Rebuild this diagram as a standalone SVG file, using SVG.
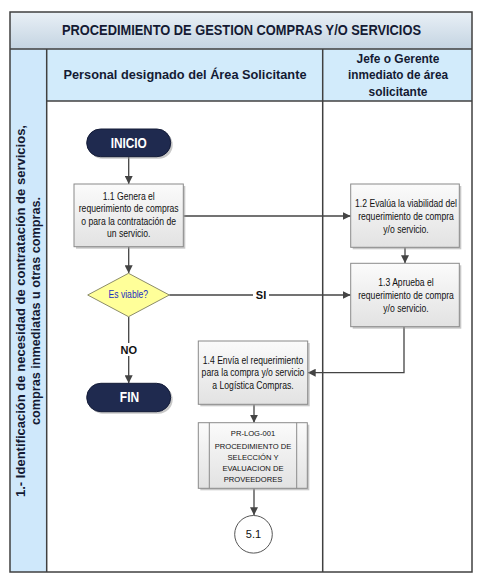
<svg xmlns="http://www.w3.org/2000/svg" width="493" height="583" viewBox="0 0 493 583">
<style>
.hdr{font-family:"Liberation Sans",Arial,sans-serif;font-weight:bold;fill:#141a33;}
.n{font-family:"Liberation Sans",Arial,sans-serif;font-size:10.5px;fill:#111;text-anchor:middle;}
.pr{font-family:"Liberation Sans",Arial,sans-serif;font-size:7.6px;fill:#111;text-anchor:middle;}
.box{fill:url(#gbox);stroke:#8a8a8a;stroke-width:1;}
.shadow{fill:#9a9a9a;opacity:0.55;}
.pill{fill:#1f2a4f;stroke:#141c38;stroke-width:1;}
.pt{font-family:"Liberation Sans",Arial,sans-serif;font-weight:bold;fill:#fff;text-anchor:middle;}
.line{fill:none;stroke:#444;stroke-width:1.3;}
.lbl{font-family:"Liberation Sans",Arial,sans-serif;font-weight:bold;font-size:11px;fill:#111;text-anchor:middle;}
.frame{fill:none;stroke:#404040;stroke-width:1.5;}
</style>
<defs>
<linearGradient id="gtitle" x1="0" y1="0" x2="0" y2="1">
<stop offset="0" stop-color="#e9f0f6"/>
<stop offset="1" stop-color="#c4d4e2"/>
</linearGradient>
<linearGradient id="gbox" x1="0" y1="0" x2="0" y2="1">
<stop offset="0" stop-color="#fbfbfb"/>
<stop offset="1" stop-color="#e2e2e2"/>
</linearGradient>
<marker id="arr" viewBox="0 0 10 10" refX="10" refY="5" markerWidth="8" markerHeight="8" markerUnits="userSpaceOnUse" orient="auto">
<path d="M0,0 L10,5 L0,10 Z" fill="#444"/>
</marker>
</defs>

<g id="frame">
<rect x="10" y="12" width="462" height="37" fill="url(#gtitle)"/>
<rect x="46.7" y="49" width="425.3" height="52" fill="#d2ebfb"/>
<rect x="10" y="49" width="36.7" height="523" fill="#cfe8fb"/>
<rect x="46.7" y="101" width="425.3" height="471" fill="#fff"/>
<rect class="frame" x="10" y="12" width="462" height="560"/>
<line class="frame" x1="10" y1="49" x2="472" y2="49"/>
<line class="frame" x1="46.7" y1="101" x2="472" y2="101" stroke-width="1.2"/>
<line class="frame" x1="46.7" y1="49" x2="46.7" y2="572" stroke-width="1.2"/>
<line class="frame" x1="322.7" y1="49" x2="322.7" y2="572" stroke-width="1.2"/>
<text class="hdr" x="241.5" y="35" font-size="14" text-anchor="middle" textLength="359" lengthAdjust="spacingAndGlyphs">PROCEDIMIENTO DE GESTION COMPRAS Y/O SERVICIOS</text>
<text class="hdr" x="185" y="79" font-size="13.5" text-anchor="middle" textLength="243" lengthAdjust="spacingAndGlyphs">Personal designado del Área Solicitante</text>
<text class="hdr" x="398" y="63" font-size="13" text-anchor="middle" textLength="83" lengthAdjust="spacingAndGlyphs">Jefe o Gerente</text>
<text class="hdr" x="398" y="79" font-size="13" text-anchor="middle" textLength="100" lengthAdjust="spacingAndGlyphs">inmediato de área</text>
<text class="hdr" x="398" y="96" font-size="13" text-anchor="middle" textLength="59" lengthAdjust="spacingAndGlyphs">solicitante</text>
<g transform="translate(0,311) rotate(-90)">
<text class="hdr" x="0" y="25" font-size="12" text-anchor="middle" textLength="372" lengthAdjust="spacingAndGlyphs">1.- Identificación de necesidad de contratación de servicios,</text>
<text class="hdr" x="0" y="40" font-size="12" text-anchor="middle" textLength="228" lengthAdjust="spacingAndGlyphs">compras inmediatas u otras compras.</text>
</g>
</g>

<g id="connectors">
<line class="line" x1="128.7" y1="157" x2="128.7" y2="184" marker-end="url(#arr)"/>
<line class="line" x1="183.3" y1="216" x2="350.7" y2="216" marker-end="url(#arr)"/>
<line class="line" x1="128.7" y1="247" x2="128.7" y2="273.3" marker-end="url(#arr)"/>
<line class="line" x1="169.3" y1="295" x2="350.7" y2="295" marker-end="url(#arr)"/>
<line class="line" x1="128.7" y1="316.7" x2="128.7" y2="383.3" marker-end="url(#arr)"/>
<line class="line" x1="405" y1="247.3" x2="405" y2="263.3" marker-end="url(#arr)"/>
<polyline class="line" points="404,326.7 404,372.7 307.7,372.7" marker-end="url(#arr)"/>
<line class="line" x1="254" y1="404.3" x2="254" y2="422.7" marker-end="url(#arr)"/>
<line class="line" x1="254" y1="488.3" x2="254" y2="515.3" marker-end="url(#arr)"/>
<rect x="253" y="289" width="16" height="12" fill="#fff"/>
<text class="lbl" x="261" y="299.3">SI</text>
<rect x="119" y="343" width="20" height="13" fill="#fff"/>
<text class="lbl" x="128.8" y="354">NO</text>
</g>

<g id="inicio">
<rect class="shadow" x="88.7" y="131" width="84" height="27.7" rx="13.8"/>
<rect class="pill" x="86.7" y="129" width="84" height="27.7" rx="13.8"/>
<g transform="translate(128.7,148) scale(0.8,1)"><text class="pt" x="0" y="0" font-size="14.8">INICIO</text></g>
</g>

<g id="n11">
<rect class="shadow" x="76" y="186" width="109.3" height="62.7"/>
<rect class="box" x="74" y="184" width="109.3" height="62.7"/>
<g transform="translate(128.7,0) scale(0.82,1)" >
<text class="n" x="0" y="200">1.1 Genera el</text>
<text class="n" x="0" y="212.5">requerimiento de compras</text>
<text class="n" x="0" y="225">o para la contratación de</text>
<text class="n" x="0" y="237.5">un servicio.</text>
</g>
</g>

<g id="n12">
<rect class="shadow" x="352.7" y="186" width="108.6" height="63.3"/>
<rect class="box" x="350.7" y="184" width="108.6" height="63.3"/>
<g transform="translate(406,0) scale(0.82,1)">
<text class="n" x="0" y="207">1.2 Evalúa la viabilidad del</text>
<text class="n" x="0" y="220">requerimiento de compra</text>
<text class="n" x="0" y="233">y/o servicio.</text>
</g>
</g>

<g id="n13">
<rect class="shadow" x="352.7" y="265.3" width="108.6" height="63.4"/>
<rect class="box" x="350.7" y="263.3" width="108.6" height="63.4"/>
<g transform="translate(406,0) scale(0.82,1)">
<text class="n" x="0" y="286">1.3 Aprueba el</text>
<text class="n" x="0" y="299">requerimiento de compra</text>
<text class="n" x="0" y="312">y/o servicio.</text>
</g>
</g>

<g id="decision">
<polygon points="128.5,273.3 169.3,295 128.5,316.7 87.7,295" fill="#ffff99" stroke="#8c8c6a" stroke-width="1"/>
<g transform="translate(128.3,0) scale(0.82,1)"><text class="n" x="0" y="298.5" style="fill:#1a2fc0">Es viable?</text></g>
</g>

<g id="fin">
<rect class="shadow" x="88.7" y="385.3" width="84" height="28.4" rx="14.2"/>
<rect class="pill" x="86.7" y="383.3" width="84" height="28.4" rx="14.2"/>
<g transform="translate(129.5,402) scale(0.8,1)"><text class="pt" x="0" y="0" font-size="15">FIN</text></g>
</g>

<g id="n14">
<rect class="shadow" x="200.3" y="343" width="109.4" height="63.3"/>
<rect class="box" x="198.3" y="341" width="109.4" height="63.3"/>
<g transform="translate(253,0) scale(0.82,1)">
<text class="n" x="0" y="364">1.4 Envía el requerimiento</text>
<text class="n" x="0" y="376.5">para la compra y/o servicio</text>
<text class="n" x="0" y="389.3">a Logística Compras.</text>
</g>
</g>

<g id="prlog">
<rect class="shadow" x="200.3" y="424.7" width="109" height="65.6"/>
<rect class="box" x="198.3" y="422.7" width="109" height="65.6"/>
<line x1="209.3" y1="422.7" x2="209.3" y2="488.3" stroke="#8a8a8a" stroke-width="1"/>
<line x1="296.7" y1="422.7" x2="296.7" y2="488.3" stroke="#8a8a8a" stroke-width="1"/>
<text class="pr" x="253" y="436">PR-LOG-001</text>
<text class="pr" x="253" y="448.5">PROCEDIMIENTO DE</text>
<text class="pr" x="253" y="459.5">SELECCIÓN Y</text>
<text class="pr" x="253" y="471">EVALUACION DE</text>
<text class="pr" x="253" y="482">PROVEEDORES</text>
</g>

<g id="c51">
<circle cx="253.5" cy="534.3" r="18.8" fill="#fff" stroke="#555" stroke-width="1"/>
<text x="253.5" y="538.3" font-family="Liberation Sans, Arial, sans-serif" font-size="11" fill="#111" text-anchor="middle">5.1</text>
</g>
</svg>
